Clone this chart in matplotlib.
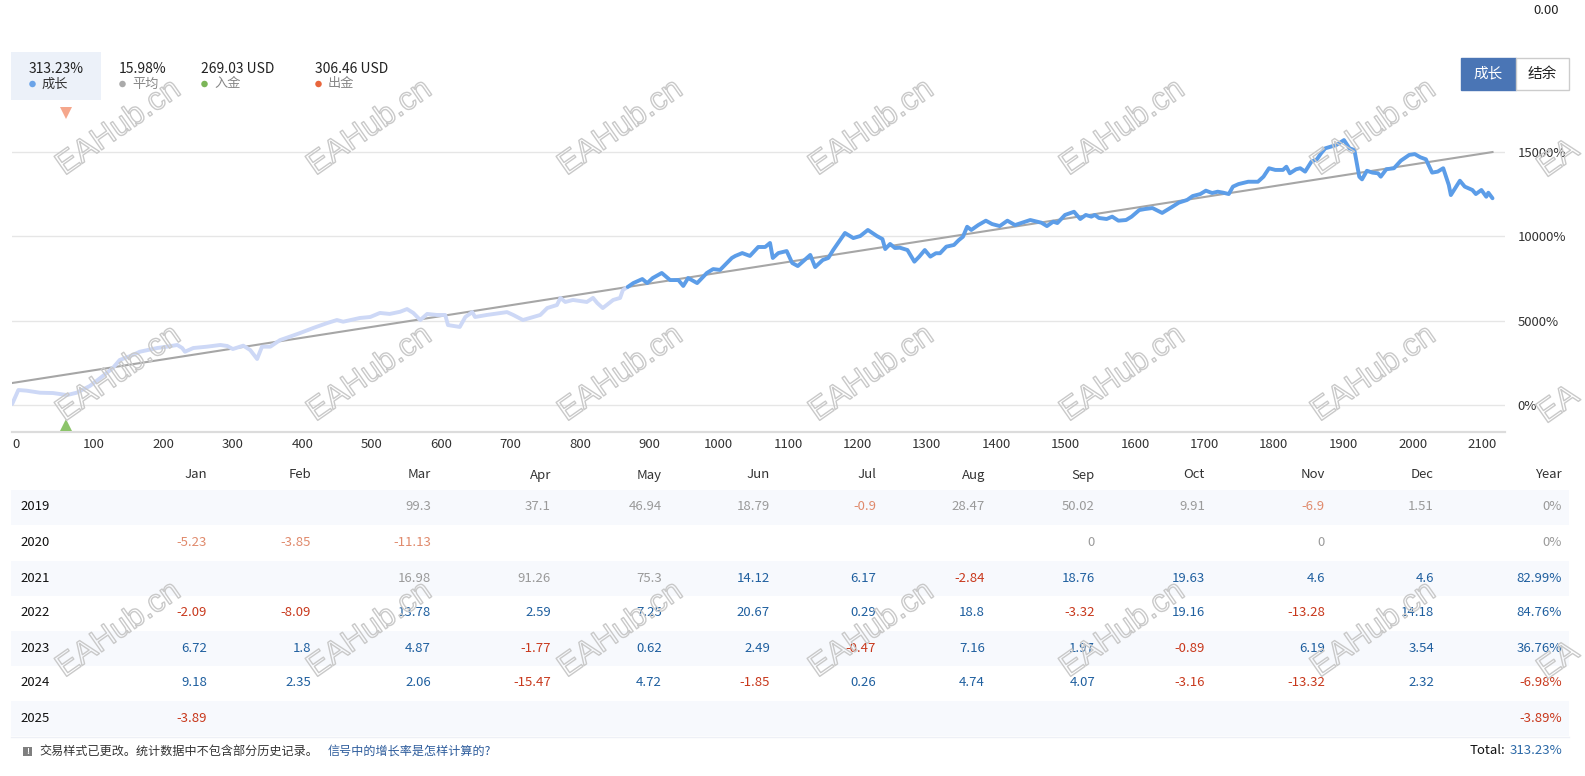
import matplotlib
matplotlib.use('Agg')
import matplotlib.pyplot as plt
from matplotlib.patches import Rectangle
import matplotlib.patheffects as pe
import matplotlib.transforms as mtransforms

W, H = 1585, 776
plt.rcParams['font.family'] = ['Noto Sans CJK SC', 'DejaVu Sans']

# ---------------- data ----------------
hist_x = [-18, -9, 3, 22, 41, 61, 75, 94, 109, 127, 137, 152, 166, 191, 205, 220, 227, 231, 243, 263,
          282, 292, 300, 315, 325, 335, 342, 354, 368, 382, 397, 416, 436, 450, 459, 483, 498, 512, 526, 541,
          551, 560, 570, 580, 594, 599, 606, 610, 627, 635, 645, 649, 666, 695, 704, 718, 728, 743, 753, 767,
          772, 779, 790, 810, 819, 825, 833, 848, 858, 862, 869]
hist_v = [60, 890, 850, 730, 710, 590, 730, 1130, 1600, 2190, 2670, 2900, 3160, 3380, 3460, 3560, 3380, 3160, 3380, 3460,
          3560, 3500, 3320, 3520, 3260, 2730, 3460, 3460, 3850, 4050, 4270, 4570, 4860, 5040, 4940, 5160, 5220, 5460, 5400, 5530,
          5690, 5460, 5040, 5400, 5340, 5340, 5340, 4740, 4630, 5220, 5510, 5220, 5340, 5510, 5340, 5040, 5160, 5340, 5750, 5930,
          6350, 6110, 6230, 6110, 6350, 6050, 5750, 6230, 6350, 6820, 7000]

live_x = [869, 877, 890, 897, 905, 918, 930, 942, 949, 956,
          969, 983, 992, 1002, 1019, 1024, 1034, 1045, 1057, 1067,
          1074, 1078, 1086, 1098, 1106, 1114, 1127, 1132, 1139, 1150,
          1158, 1165, 1182, 1194, 1204, 1215, 1228, 1236, 1240, 1247,
          1254, 1261, 1272, 1282, 1289, 1297, 1305, 1313, 1319, 1328,
          1339, 1346, 1352, 1358, 1364, 1374, 1385, 1394, 1405, 1416,
          1427, 1449, 1465, 1473, 1482, 1488, 1499, 1512, 1521, 1529,
          1537, 1542, 1548, 1559, 1567, 1576, 1587, 1595, 1606, 1614,
          1625, 1639, 1653, 1663, 1675, 1683, 1694, 1702, 1711, 1719,
          1727, 1735, 1741, 1749, 1763, 1777, 1785, 1793, 1802, 1813,
          1818, 1823, 1832, 1838, 1845, 1854, 1862, 1868, 1874, 1890,
          1901, 1909, 1916, 1923, 1927, 1934, 1942, 1950, 1954, 1962,
          1973, 1983, 1995, 2003, 2011, 2019, 2028, 2036, 2044, 2052,
          2055, 2068, 2075, 2086, 2091, 2099, 2106, 2109, 2115]
live_v = [7000, 7230, 7470, 7230, 7530, 7830, 7410, 7410, 7060, 7530,
          7230, 7830, 8060, 8010, 8720, 8840, 9010, 8840, 9370, 9370,
          9610, 8720, 9010, 9130, 8420, 8240, 8720, 8900, 8180, 8600,
          8720, 9190, 10200, 9900, 10020, 10380, 10020, 9840, 9250, 9550,
          9310, 9330, 9190, 8500, 8800, 9190, 8800, 9000, 9000, 9390,
          9490, 9780, 9980, 10570, 10380, 10670, 10930, 10730, 10610, 10930,
          10670, 10970, 10810, 10610, 10870, 10790, 11270, 11460, 11030, 11270,
          11170, 11270, 11090, 11030, 11170, 10930, 10970, 11170, 11560, 11620,
          11680, 11390, 11740, 12000, 12160, 12390, 12510, 12710, 12570, 12650,
          12590, 12510, 12950, 13100, 13240, 13240, 13540, 14040, 13940, 13940,
          14130, 13740, 13980, 14040, 13840, 14430, 14570, 14930, 15220, 15420,
          15710, 15220, 15120, 13540, 13380, 13890, 13780, 13740, 13540, 13980,
          14040, 14490, 14830, 14880, 14690, 14570, 13780, 13840, 14040, 13050,
          12450, 13300, 12950, 12750, 12510, 12750, 12350, 12590, 12260]

trend_x = [-18, 2115]
trend_v = [1305, 15000]

deposit_x = [60]
withdraw_x = [60]

x_ticks = list(range(0, 2101, 100))
y_ticks = [0, 5000, 10000, 15000]

summary_values = ['313.23%', '15.98%', '269.03 USD', '306.46 USD']
summary_labels = ['成长', '平均', '入金', '出金']

months = ['Jan', 'Feb', 'Mar', 'Apr', 'May', 'Jun', 'Jul', 'Aug', 'Sep', 'Oct', 'Nov', 'Dec']
years = ['2019', '2020', '2021', '2022', '2023', '2024', '2025']
monthly = [
    [None, None, 99.3, 37.1, 46.94, 18.79, -0.9, 28.47, 50.02, 9.91, -6.9, 1.51],
    [-5.23, -3.85, -11.13, None, None, None, None, None, 0, None, 0, None],
    [None, None, 16.98, 91.26, 75.3, 14.12, 6.17, -2.84, 18.76, 19.63, 4.6, 4.6],
    [-2.09, -8.09, 13.78, 2.59, 7.25, 20.67, 0.29, 18.8, -3.32, 19.16, -13.28, 14.18],
    [6.72, 1.8, 4.87, -1.77, 0.62, 2.49, -0.47, 7.16, 1.97, -0.89, 6.19, 3.54],
    [9.18, 2.35, 2.06, -15.47, 4.72, -1.85, 0.26, 4.74, 4.07, -3.16, -13.32, 2.32],
    [-3.89, None, None, None, None, None, None, None, None, None, None, None],
]
year_totals = [0, 0, 82.99, 84.76, 36.76, -6.98, -3.89]
history_months = [12, 12, 5, 0, 0, 0, 0]   # leading months shown as history (greyed)
history_year = [True, True, False, False, False, False, False]
total_growth = '313.23%'
header_balance = '0.00'

footer_note = '交易样式已更改。统计数据中不包含部分历史记录。'
footer_link = '信号中的增长率是怎样计算的?'
watermark = 'EAHub.cn'

# ---------------- colours ----------------
C_HIST = '#cdd8f6'
C_LIVE = '#5c9de8'
C_TREND = '#a6a6a6'
C_BLUE_TXT = '#1f5f9f'
C_RED_TXT = '#c8381c'
C_GREY_TXT = '#9a9a9a'
C_LRED_TXT = '#e08a6c'
dot_colors = ['#6aa3e8', '#aaaaaa', '#7cb658', '#e8663c']
label_colors = ['#333333', '#888888', '#888888', '#888888']

# ---------------- figure ----------------
fig = plt.figure(figsize=(W / 100, H / 100), dpi=100)
fig.patch.set_facecolor('white')

AX_L, AX_R, AX_T, AX_B = 12, 1505, 105, 432
ax = fig.add_axes([AX_L / W, 1 - AX_B / H, (AX_R - AX_L) / W, (AX_B - AX_T) / H])
ax.set_facecolor('none')
ax.set_xlim(-18.2, 2133)
ax.set_ylim(-1600, 17790)

ax.plot(trend_x, trend_v, color=C_TREND, lw=1.5, zorder=2)
ax.plot(hist_x, hist_v, color=C_HIST, lw=2.8, solid_joinstyle='round', solid_capstyle='round', zorder=3)
ax.plot(live_x, live_v, color=C_LIVE, lw=2.8, solid_joinstyle='round', solid_capstyle='round', zorder=4)

ax.plot(withdraw_x, [17316] * len(withdraw_x), marker='v', ls='none', ms=8, color='#f5a78c',
        markeredgewidth=0, clip_on=False, zorder=5)
ax.plot(deposit_x, [-1200] * len(deposit_x), marker='^', ls='none', ms=9, color='#8cc46a',
        markeredgewidth=0, clip_on=True, zorder=5)

ax.set_yticks(y_ticks)
ax.set_yticklabels([f'{v}%' for v in y_ticks])
ax.yaxis.tick_right()
ax.grid(axis='y', color='#e6e6e6', lw=1)
ax.set_axisbelow(True)
ax.set_xticks(x_ticks)
ax.set_xticklabels([str(v) for v in x_ticks])
ax.tick_params(axis='y', length=0, pad=9, labelsize=9.5, labelcolor='#333333')
ax.tick_params(axis='x', length=0, pad=4, labelsize=9.5, labelcolor='#333333')
for s in ['top', 'left', 'right']:
    ax.spines[s].set_visible(False)
ax.spines['bottom'].set_color('#dcdcdc')
ax.spines['bottom'].set_linewidth(1.6)

first = ax.get_xticklabels()[0]
first.set_transform(first.get_transform() + mtransforms.ScaledTranslation(-9 / 100, 0, fig.dpi_scale_trans))

# ---------------- overlay (pixel coords) ----------------
ov = fig.add_axes([0, 0, 1, 1], zorder=10)
ov.set_xlim(0, W)
ov.set_ylim(H, 0)
ov.axis('off')

# top-right value
ov.text(1546, 11, header_balance, ha='center', va='center', fontsize=9.5, color='#222222')

# buttons
ov.add_patch(Rectangle((1461, 58), 55, 32, fc='#4a75b5', ec='#4a75b5', lw=1))
ov.add_patch(Rectangle((1516, 58), 53, 32, fc='white', ec='#cccccc', lw=1))
ov.text(1488.5, 73.5, '成长', ha='center', va='center', fontsize=10.5, color='white')
ov.text(1542.5, 73.5, '结余', ha='center', va='center', fontsize=10.5, color='#222222')

# summary header
ov.add_patch(Rectangle((11, 52), 90, 48, fc='#ecf1f9', ec='none'))
sum_x = [29, 119, 201, 315]
for i in range(4):
    ov.text(sum_x[i], 69, summary_values[i], ha='left', va='center', fontsize=10, color='#222222')
    ov.scatter([sum_x[i] + 3.5], [84], s=22, color=dot_colors[i], edgecolors='none')
    ov.text(sum_x[i] + 13, 84, summary_labels[i], ha='left', va='center', fontsize=9.5, color=label_colors[i])

# table
col_right = [207, 311, 431, 551, 662, 770, 876, 985, 1095, 1205, 1325, 1434]
year_right = 1562
header_y = 475
row_y = [507, 543, 578, 613, 648, 683, 718]
ROW_H = 35

for r in range(len(years)):
    if r % 2 == 0:
        ov.add_patch(Rectangle((11, row_y[r] - ROW_H / 2), 1558, ROW_H, fc='#f7f9fd', ec='none', zorder=0))
ov.plot([11, 1569], [737, 737], color='#eef0f6', lw=1)

for c, m in enumerate(months):
    ov.text(col_right[c], header_y, m, ha='right', va='center', fontsize=9.5, color='#333333')
ov.text(year_right, header_y, 'Year', ha='right', va='center', fontsize=9.5, color='#333333')

for r, yr in enumerate(years):
    ov.text(20, row_y[r], yr, ha='left', va='center', fontsize=9.5, color='#111111', fontweight='medium')
    for c in range(12):
        v = monthly[r][c]
        if v is None:
            continue
        if c < history_months[r]:
            col = C_LRED_TXT if v < 0 else C_GREY_TXT
        else:
            col = C_RED_TXT if v < 0 else C_BLUE_TXT
        ov.text(col_right[c], row_y[r], f'{v:g}', ha='right', va='center', fontsize=9.5, color=col)
    yv = year_totals[r]
    if history_year[r]:
        col = C_LRED_TXT if yv < 0 else C_GREY_TXT
    else:
        col = C_RED_TXT if yv < 0 else C_BLUE_TXT
    ov.text(year_right, row_y[r], f'{yv:g}%', ha='right', va='center', fontsize=9.5, color=col)

# footer
ov.add_patch(Rectangle((23, 747), 9, 9, fc='#7f7f7f', ec='none'))
ov.text(27.5, 751.5, '!', ha='center', va='center', fontsize=6, color='white', fontweight='bold')
t1 = ov.text(39, 751, footer_note, ha='left', va='center', fontsize=8.7, color='#333333')
tt = ov.text(year_right, 751, total_growth, ha='right', va='center', fontsize=9.5, color='#2d6aa8')
fig.canvas.draw()
b1 = t1.get_window_extent()
ov.text(b1.x1 + 10, 751, footer_link, ha='left', va='center', fontsize=8.7, color='#2d5c9c')
bb = tt.get_window_extent()
ov.text(bb.x0 - 4, 751, 'Total:', ha='right', va='center', fontsize=9.5, color='#111111')

# watermarks (outlined, rotated)
wm_style = dict(rotation=35, rotation_mode='anchor', fontsize=23, family='Liberation Sans',
                color=(1, 1, 1, 0), zorder=20,
                path_effects=[pe.Stroke(linewidth=1.0, foreground='#c9c9c9'), pe.Normal()])
wm_x = [119, 370, 621, 872, 1123, 1374]
wm_y = [128, 374, 630]
for yy in wm_y:
    for xx in wm_x:
        ov.text(xx, yy, watermark, ha='center', va='center', **wm_style)
    # partially visible copy at the right edge
    ov.text(1546, yy + 50, watermark[:2], ha='left', va='baseline', **wm_style)

fig.savefig('out.png', dpi=100, facecolor='white')
